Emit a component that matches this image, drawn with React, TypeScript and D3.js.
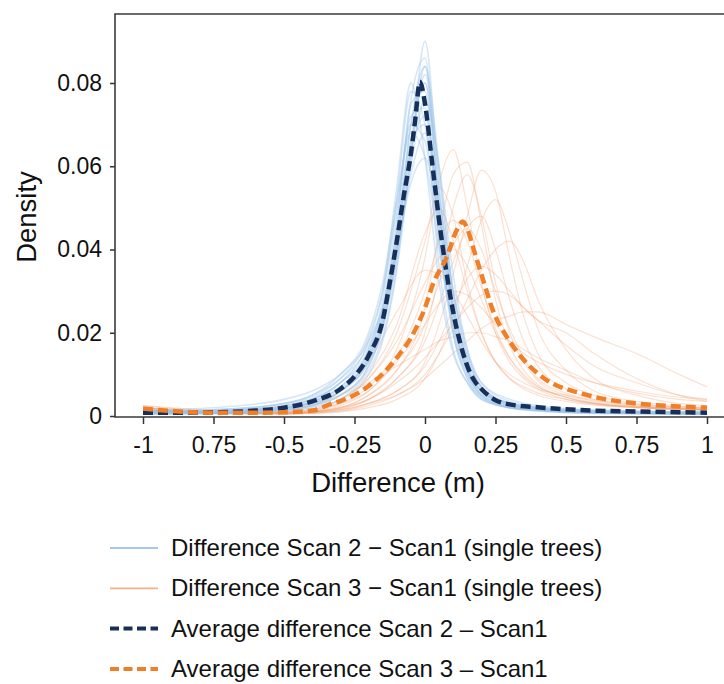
import React, { useRef, useEffect } from 'react';
import * as d3 from 'd3';

// x positions (m) shared by the single-tree curves of each scan
const scan2Grid = [-1, -0.75, -0.5, -0.4, -0.3, -0.2, -0.15, -0.1, -0.05, 0, 0.05, 0.1, 0.15, 0.2, 0.3, 0.4, 0.5, 0.75, 1];
const scan3Grid = [-1, -0.75, -0.5, -0.4, -0.3, -0.2, -0.1, 0, 0.05, 0.1, 0.15, 0.2, 0.25, 0.3, 0.35, 0.4, 0.5, 0.6, 0.75, 0.9, 1];

// single tree densities, x1000
const scan2Trees = [
    [0.5, 0.6, 1.2, 2, 4, 10, 18, 35, 62, 90, 55, 25, 11, 5, 2, 1.2, 0.8, 0.5, 0.4],
    [0.6, 0.8, 1.5, 2.5, 5, 12, 21, 40, 70, 84, 50, 22, 10, 5, 2.2, 1.4, 1, 0.6, 0.5],
    [1, 1, 2, 3, 6, 14, 24, 46, 75, 78, 42, 20, 10, 5, 2.5, 1.6, 1.2, 0.8, 0.6],
    [0.8, 1, 2.5, 4, 8, 18, 30, 55, 80, 62, 32, 15, 8, 4, 2, 1.5, 1, 0.8, 0.6],
    [0.5, 0.8, 1.6, 2.6, 5, 11, 19, 36, 64, 82, 58, 30, 14, 7, 3, 1.8, 1.2, 0.8, 0.6],
    [1.2, 1.5, 3, 5, 9, 17, 26, 44, 66, 70, 46, 26, 14, 7, 3, 2, 1.5, 1, 0.8],
    [1, 1.2, 2.5, 4, 8, 16, 25, 40, 56, 62, 48, 30, 16, 8, 3.5, 2.2, 1.6, 1.1, 0.9],
    [0.6, 0.7, 1.5, 2.6, 6, 15, 26, 48, 72, 74, 44, 20, 9, 4.5, 2, 1.4, 1, 0.7, 0.5],
    [0.8, 1, 2, 3.5, 7, 14, 22, 38, 60, 76, 60, 34, 16, 7, 3, 1.8, 1.2, 0.8, 0.6],
    [0.7, 0.9, 2, 3.5, 7, 16, 28, 52, 78, 70, 36, 16, 8, 4, 2, 1.4, 1, 0.7, 0.5],
    [1.5, 2, 4, 6, 10, 18, 26, 40, 58, 68, 52, 30, 15, 8, 4, 2.5, 1.8, 1.2, 1],
    [0.5, 0.6, 1.3, 2.2, 5, 12, 22, 44, 76, 86, 48, 20, 9, 4.5, 2, 1.2, 0.9, 0.6, 0.4],
    [1, 1.3, 3, 5, 10, 20, 32, 52, 68, 62, 40, 22, 11, 6, 3, 2, 1.4, 1, 0.8],
    [0.6, 0.8, 1.8, 3, 6, 13, 22, 40, 66, 80, 54, 26, 12, 6, 2.6, 1.6, 1.1, 0.8, 0.6],
    [0.9, 1.1, 2.4, 4, 8, 15, 24, 42, 64, 72, 50, 27, 13, 6.5, 3, 2, 1.4, 0.9, 0.7],
    [0.7, 0.9, 2, 3.4, 6.5, 14, 23, 42, 70, 80, 50, 24, 11, 5.5, 2.4, 1.5, 1.1, 0.8, 0.6],
    [1.2, 1.5, 3, 4.5, 9, 19, 30, 50, 70, 66, 42, 22, 11, 6, 3, 2, 1.5, 1, 0.8],
    [0.8, 1, 2, 3.2, 6, 13, 21, 38, 62, 84, 60, 28, 12, 6, 2.6, 1.6, 1.2, 0.8, 0.6],
];

const scan3Trees = [
    [1.5, 0.8, 0.8, 1.2, 3, 7, 16, 38, 56, 64, 50, 32, 20, 13, 9, 6.5, 4, 2.8, 2, 1.6, 1.4],
    [1.5, 0.6, 0.6, 1, 2, 5, 11, 26, 44, 58, 61, 46, 28, 17, 11, 7.5, 4.5, 3, 2, 1.6, 1.4],
    [1.5, 0.6, 0.5, 0.7, 1.2, 3, 6, 13, 22, 34, 48, 59, 54, 38, 24, 15, 8, 5, 3, 2.2, 2],
    [2, 1, 1, 1.5, 4, 10, 22, 44, 50, 42, 30, 20, 13, 9, 7, 5.5, 4, 3, 2.2, 1.8, 1.6],
    [2, 0.8, 0.8, 1, 2, 4, 8, 14, 18, 22, 26, 29, 30, 29, 26, 23, 17, 12, 8, 5, 4],
    [1.5, 0.7, 0.6, 1, 2, 5, 11, 22, 32, 41, 45, 40, 30, 21, 14, 9, 5.5, 3.5, 2.4, 1.8, 1.6],
    [2, 0.8, 0.8, 1.2, 3.5, 9, 20, 42, 55, 48, 32, 20, 13, 9, 6.5, 5, 3.5, 2.6, 2, 1.6, 1.5],
    [2, 0.8, 0.7, 1, 1.5, 3, 6, 12, 18, 26, 33, 36, 34, 30, 26, 23, 20, 15, 9, 5, 3.5],
    [1.6, 0.8, 1, 1.6, 4, 9, 18, 32, 38, 40, 36, 28, 20, 14, 10, 7, 4.5, 3, 2.2, 1.8, 1.6],
    [1.5, 0.5, 0.5, 0.6, 1, 2, 4, 9, 15, 24, 36, 47, 52, 44, 32, 21, 11, 6, 3.5, 2.4, 2],
    [2.5, 1.5, 2, 3, 5, 8, 12, 16, 18, 19, 20, 20, 19, 18, 16, 14, 11, 8, 5.5, 4, 3.5],
    [1.6, 0.7, 0.7, 1, 2.5, 6, 14, 30, 42, 47, 42, 31, 21, 14, 9.5, 7, 4.5, 3, 2.2, 1.8, 1.6],
    [1.5, 0.6, 0.5, 0.7, 1.2, 2.5, 5, 10, 15, 21, 28, 35, 40, 42, 37, 28, 16, 9, 5, 3, 2.5],
    [1.5, 0.6, 0.5, 0.8, 1.6, 4, 9, 20, 34, 50, 58, 48, 32, 20, 13, 8.5, 5, 3.2, 2.2, 1.7, 1.5],
    [2, 0.8, 0.7, 0.9, 1.5, 3, 5, 9, 12, 15, 18, 21, 23, 24, 25, 25, 22, 19, 15, 10, 7],
    [2.5, 1.2, 1.5, 2.5, 6, 13, 25, 35, 34, 30, 24, 18, 13, 10, 8, 6.5, 5, 3.8, 2.8, 2.2, 2],
    [1.5, 0.6, 0.6, 0.9, 1.8, 4, 9, 18, 27, 37, 45, 48, 40, 28, 18, 12, 6.5, 4, 2.6, 2, 1.8],
    [2, 1, 1, 1.5, 3, 6, 13, 22, 27, 30, 29, 26, 22, 18, 15, 13, 10, 8, 6, 4.5, 4],
];

// average curves, density x1000
const avg2X = [-1, -0.9, -0.75, -0.6, -0.5, -0.4, -0.3, -0.25, -0.2, -0.15, -0.125, -0.1, -0.075, -0.05, -0.035, -0.018, 0, 0.025, 0.05, 0.075, 0.1, 0.125, 0.15, 0.175, 0.2, 0.25, 0.3, 0.4, 0.5, 0.6, 0.75, 0.9, 1];
const avg2Y = [0.8, 0.8, 0.9, 1.3, 2, 3.5, 6.5, 9.5, 14.5, 23, 32, 42, 53, 63, 71, 80.3, 75, 61, 47, 35, 25, 17.5, 12, 8.5, 6.5, 3.8, 2.8, 2.1, 1.6, 1.3, 1.1, 0.9, 0.8];
const avg3X = [-1, -0.9, -0.75, -0.6, -0.5, -0.4, -0.33, -0.3, -0.2, -0.1, -0.04, 0, 0.03, 0.076, 0.113, 0.134, 0.15, 0.17, 0.206, 0.24, 0.29, 0.35, 0.43, 0.55, 0.7, 0.82, 0.9, 1];
const avg3Y = [1.8, 1.2, 0.8, 0.8, 0.9, 1.3, 3, 3.6, 7.2, 14, 20, 26, 32, 38, 44.7, 46.7, 45, 40.6, 32.7, 25.5, 19, 13.5, 8.7, 5.5, 3.4, 2.6, 2.3, 2];

const xTicks = [-1, -0.75, -0.5, -0.25, 0, 0.25, 0.5, 0.75, 1];
const xTickLabels = ['-1', '0.75', '-0.5', '-0.25', '0', '0.25', '0.5', '0.75', '1'];
const yTicks = [0, 0.02, 0.04, 0.06, 0.08];
const yTickLabels = ['0', '0.02', '0.04', '0.06', '0.08'];

const legendLabels = [
    'Difference Scan 2 \u2212 Scan1 (single trees)',
    'Difference Scan 3 \u2212 Scan1 (single trees)',
    'Average difference Scan 2 \u2013 Scan1',
    'Average difference Scan 3 \u2013 Scan1',
];

const App = () => {
    const chart = useRef<SVGSVGElement>(null);

    useEffect(() => {
        const svg = d3.select(chart.current);
        svg.selectAll('*').remove();

        const font = '"Liberation Sans", Arial, sans-serif';
        const left = 115, top = 14, bottom = 417, right = 724;

        const x = d3.scaleLinear().domain([-1, 1]).range([143, 707]);
        const y = d3.scaleLinear().domain([0, 0.08]).range([416, 83]);

        svg.append('defs').append('clipPath').attr('id', 'plot')
            .append('rect')
            .attr('x', left).attr('y', top)
            .attr('width', right - left).attr('height', bottom - top);

        const lineFor = (xs: number[]) => d3.line<number>()
            .x((_, i) => x(xs[i]))
            .y(d => y(d / 1000))
            .curve(d3.curveMonotoneX);

        const plot = svg.append('g').attr('clip-path', 'url(#plot)');

        plot.selectAll('.t3')
            .data(scan3Trees)
            .enter()
            .append('path')
            .attr('d', lineFor(scan3Grid))
            .attr('fill', 'none')
            .attr('stroke', '#f2a273')
            .attr('stroke-opacity', 0.32)
            .attr('stroke-width', 1.2);

        plot.selectAll('.t2')
            .data(scan2Trees)
            .enter()
            .append('path')
            .attr('d', lineFor(scan2Grid))
            .attr('fill', 'none')
            .attr('stroke', '#9cc4e8')
            .attr('stroke-opacity', 0.4)
            .attr('stroke-width', 1.6);

        plot.append('path')
            .datum(avg2Y)
            .attr('d', lineFor(avg2X))
            .attr('fill', 'none')
            .attr('stroke', '#17305b')
            .attr('stroke-width', 4.5)
            .attr('stroke-dasharray', '10,5');

        plot.append('path')
            .datum(avg3Y)
            .attr('d', lineFor(avg3X))
            .attr('fill', 'none')
            .attr('stroke', '#f07f28')
            .attr('stroke-width', 4.5)
            .attr('stroke-dasharray', '10,5');

        // axes
        const xAxis = svg.append('g')
            .attr('transform', `translate(0,${bottom})`)
            .call(d3.axisBottom(x).tickValues(xTicks)
                .tickFormat((_, i) => xTickLabels[i])
                .tickSize(7).tickSizeOuter(0).tickPadding(13));
        xAxis.select('.domain').remove();
        xAxis.selectAll('line').attr('stroke', '#333').attr('stroke-width', 1.5);
        xAxis.selectAll('text').style('font-family', font).style('font-size', '23px').style('fill', '#111');

        const yAxis = svg.append('g')
            .attr('transform', `translate(${left},0)`)
            .call(d3.axisLeft(y).tickValues(yTicks)
                .tickFormat((_, i) => yTickLabels[i])
                .tickSize(5).tickSizeOuter(0).tickPadding(8));
        yAxis.select('.domain').remove();
        yAxis.selectAll('line').attr('stroke', '#333').attr('stroke-width', 1.5);
        yAxis.selectAll('text').style('font-family', font).style('font-size', '23px').style('fill', '#111');

        svg.append('path')
            .attr('d', `M${right},${top}H${left}V${bottom}H${right}`)
            .attr('fill', 'none')
            .attr('stroke', '#3a3a3a')
            .attr('stroke-width', 1.6);

        svg.append('text')
            .attr('transform', 'translate(36,217) rotate(-90)')
            .attr('text-anchor', 'middle')
            .style('font-family', font).style('font-size', '27.5px').style('fill', '#111')
            .text('Density');

        svg.append('text')
            .attr('x', 398).attr('y', 492)
            .attr('text-anchor', 'middle')
            .style('font-family', font).style('font-size', '27.5px').style('fill', '#111')
            .text('Difference (m)');

        // legend
        const legendStyles = [
            { color: '#a9c7e8', width: 1.8, dash: null },
            { color: '#f5b086', width: 1.8, dash: null },
            { color: '#17305b', width: 4, dash: '9,4.5' },
            { color: '#f07f28', width: 4, dash: '9,4.5' },
        ];
        const legend = svg.append('g');
        legendLabels.forEach((label, i) => {
            const base = 556 + i * 40.3;
            const row = legend.append('g');
            const ln = row.append('line')
                .attr('x1', 110).attr('x2', 158)
                .attr('y1', base - 8).attr('y2', base - 8)
                .attr('stroke', legendStyles[i].color)
                .attr('stroke-width', legendStyles[i].width);
            if (legendStyles[i].dash) ln.attr('stroke-dasharray', legendStyles[i].dash);
            row.append('text')
                .attr('x', 171).attr('y', base)
                .style('font-family', font).style('font-size', '24px').style('fill', '#111')
                .text(label);
        });
    }, []);

    return (
        <svg ref={chart} width={724} height={684}
            style={{ position: 'absolute', left: 0, top: 0, background: '#fff' }}></svg>
    );
};

export default App;
